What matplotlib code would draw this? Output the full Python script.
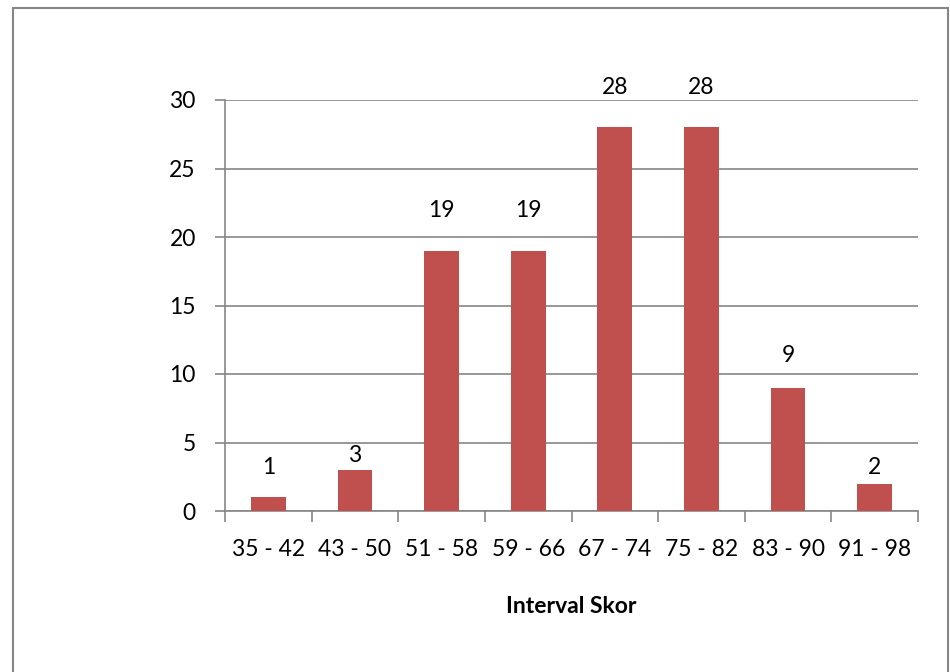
import numpy as np
import matplotlib.pyplot as plt
from matplotlib.patches import Rectangle

intervals = ['35 - 42', '43 - 50', '51 - 58', '59 - 66', '67 - 74', '75 - 82', '83 - 90', '91 - 98']
counts = [1, 3, 19, 19, 28, 28, 9, 2]
# label offsets above bar tops (pixels), as placed in the source chart
label_gap_px = [30, 14, 40, 40, 40, 40, 32, 16]

plt.rcParams['font.family'] = ['Lato', 'DejaVu Sans']
fs = 16.5

fig = plt.figure(figsize=(9.5, 6.72), dpi=100)
ax = fig.add_axes([225 / 950, 1 - 511 / 672, (918 - 225) / 950, (511 - 100) / 672])

x = np.arange(len(intervals))
ax.bar(x, counts, width=0.4, color='#C0504D', zorder=3)

for xi, c, g in zip(x, counts, label_gap_px):
    ax.annotate(str(c), (xi, c), xytext=(0, g * 0.72), textcoords='offset points',
                ha='center', va='center', fontsize=fs)

ax.set_xlim(-0.5, len(intervals) - 0.5)
ax.set_ylim(0, 30)
ax.set_yticks(range(0, 31, 5))
ax.yaxis.grid(True, color='#868686', linewidth=1.2, zorder=0)

ax.set_xticks(np.arange(-0.5, len(intervals), 1))
ax.set_xticklabels([])
ax.set_xticks(x, minor=True)
ax.set_xticklabels(intervals, minor=True, fontsize=fs)
ax.tick_params(axis='x', which='minor', length=0, pad=20)
ax.tick_params(axis='x', which='major', length=8, color='#868686', width=1.2)
ax.tick_params(axis='y', length=7, color='#868686', width=1.2, labelsize=fs, pad=14)

for s in ['top', 'right']:
    ax.spines[s].set_visible(False)
for s in ['left', 'bottom']:
    ax.spines[s].set_color('#868686')
    ax.spines[s].set_linewidth(1.2)

ax.set_xlabel('Interval Skor', fontsize=fs, fontweight='bold', labelpad=26)

fig.patches.append(Rectangle((13 / 950, -0.1), (948 - 13) / 950, 1 - 8 / 672 + 0.1,
                             transform=fig.transFigure, fill=False,
                             edgecolor='#868686', linewidth=1.5))

fig.savefig('out.png', dpi=100)
